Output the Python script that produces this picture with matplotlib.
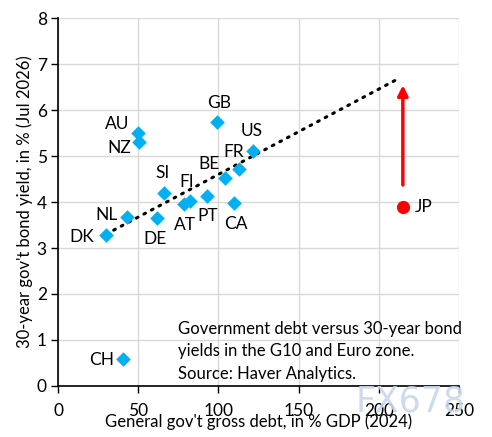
import numpy as np
import matplotlib
matplotlib.use("Agg")
import matplotlib.pyplot as plt

plt.rcParams['font.family'] = ['Lato', 'DejaVu Sans']

countries = ["GB", "AU", "NZ", "SI", "FI", "AT", "PT", "BE", "FR", "US", "CA", "NL", "DE", "DK", "CH"]
debt = [99, 50, 50.6, 66, 82, 78.7, 93, 104, 113, 121.6, 110, 43, 62, 30, 40.5]
yields = [5.74, 5.5, 5.3, 4.2, 4.03, 3.96, 4.13, 4.53, 4.71, 5.11, 3.98, 3.67, 3.65, 3.28, 0.59]
label_offsets = [(2, 19), (-21, 9), (-20, -6), (-1, 20), (-3, 19), (1, -21), (1, -20),
                 (-16, 14), (-6, 17), (-1, 20), (1, -21), (-20, 2), (-2, -21), (-24, -2), (-21, -1)]

jp_debt = 215
jp_yield = 3.89
jp_arrow_from = 4.37
jp_arrow_to = 6.54

xticks = [0, 50, 100, 150, 200, 250]
yticks = [0, 1, 2, 3, 4, 5, 6, 7, 8]

FS = 12

fig = plt.figure(figsize=(4.92, 4.37), dpi=100)
ax = fig.add_axes([58/492, 1-386/437, (459-58)/492, (386-18)/437])

ax.set_xlim(0, 250)
ax.set_ylim(0, 8)
ax.set_xticks(xticks)
ax.set_yticks(yticks)
ax.grid(True, color="#d9d9d9", lw=1)
ax.set_axisbelow(True)
for s in ["top", "right"]:
    ax.spines[s].set_visible(False)
for s in ["left", "bottom"]:
    ax.spines[s].set_color("black")
    ax.spines[s].set_linewidth(1.2)
ax.tick_params(axis="both", labelsize=FS + 0.5, length=5, width=1, colors="black", pad=3)
ax.tick_params(axis="x", pad=7)

# trend line: least squares over blue points, extended to JP's debt level
d = np.array(debt)
yv = np.array(yields)
slope, icpt = np.polyfit(d, yv, 1)
xs = np.array([d.min(), jp_debt - 2])
ax.plot(xs, icpt + slope * xs, color="black", lw=2.2, ls=(0, (0.6, 2.2)),
        dash_capstyle="round", zorder=2)

ax.scatter(debt, yields, marker="D", s=55, color="#00B0F0", zorder=3, linewidths=0)
for c, x, y, (dx, dy) in zip(countries, debt, yields, label_offsets):
    ax.annotate(c, (x, y), xytext=(dx, dy), textcoords="offset pixels",
                ha="center", va="center", fontsize=FS + 0.5, color="black")

ax.scatter([jp_debt], [jp_yield], marker="o", s=90, color="#FF0000", zorder=3, linewidths=0)
ax.annotate("JP", (jp_debt, jp_yield), xytext=(21, 0), textcoords="offset pixels",
            ha="center", va="center", fontsize=FS + 0.5, color="black")
ax.annotate("", xy=(jp_debt, jp_arrow_to), xytext=(jp_debt, jp_arrow_from),
            arrowprops=dict(arrowstyle="-|>,head_length=0.6,head_width=0.3",
                            color="#FF0000", lw=2.5, shrinkA=0, shrinkB=0))

ax.text(75, 0.76, "Government debt versus 30-year bond\nyields in the G10 and Euro zone.\nSource: Haver Analytics.",
        fontsize=FS, ha="left", va="center", linespacing=1.5, color="black")

ax.set_xlabel("General gov't gross debt, in % GDP (2024)", fontsize=FS, labelpad=-4)
ax.set_ylabel("30-year gov't bond yield, in % (Jul 2026)", fontsize=FS, labelpad=3)

fig.text(411/492, 1-401/437, "FX678", fontsize=25, color="#c8d8ec", alpha=0.9,
         ha="center", va="center", family="DejaVu Sans")

fig.savefig("out.png", dpi=100)
